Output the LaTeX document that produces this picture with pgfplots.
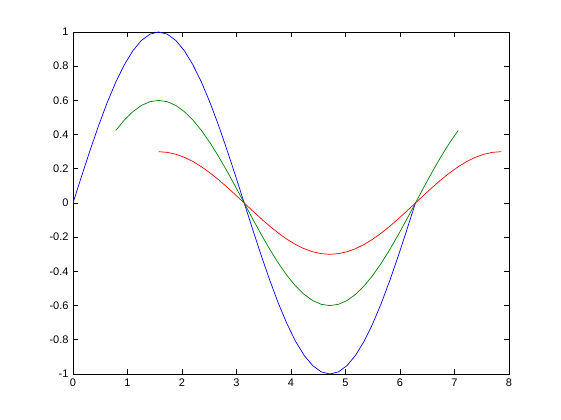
\documentclass[border=0pt]{standalone}
\usepackage{fontspec}
\setmainfont{Liberation Sans}
\usepackage{pgfplots}
\pgfplotsset{compat=1.18}

\definecolor{mblue}{rgb}{0,0,1}
\definecolor{mgreen}{rgb}{0,0.5,0}
\definecolor{mred}{rgb}{1,0,0}

% y = sin(x) on 0..2pi, step 9 degrees
\pgfplotstableread{
x y
0.0000 0
0.1571 0.15643
0.3142 0.30902
0.4712 0.45399
0.6283 0.58779
0.7854 0.70711
0.9425 0.80902
1.0996 0.89101
1.2566 0.95106
1.4137 0.98769
1.5708 1
1.7279 0.98769
1.8850 0.95106
2.0420 0.89101
2.1991 0.80902
2.3562 0.70711
2.5133 0.58779
2.6704 0.45399
2.8274 0.30902
2.9845 0.15643
3.1416 0
3.2987 -0.15643
3.4558 -0.30902
3.6128 -0.45399
3.7699 -0.58779
3.9270 -0.70711
4.0841 -0.80902
4.2412 -0.89101
4.3982 -0.95106
4.5553 -0.98769
4.7124 -1
4.8695 -0.98769
5.0265 -0.95106
5.1836 -0.89101
5.3407 -0.80902
5.4978 -0.70711
5.6549 -0.58779
5.8119 -0.45399
5.9690 -0.30902
6.1261 -0.15643
6.2832 0
}\bluedata

% 0.6 sin(x) on pi/4..9pi/4
\pgfplotstableread{
x y
0.7854 0.42427
0.9425 0.48541
1.0996 0.53461
1.2566 0.57064
1.4137 0.59261
1.5708 0.6
1.7279 0.59261
1.8850 0.57064
2.0420 0.53461
2.1991 0.48541
2.3562 0.42427
2.5133 0.35267
2.6704 0.27239
2.8274 0.18541
2.9845 0.09386
3.1416 0
3.2987 -0.09386
3.4558 -0.18541
3.6128 -0.27239
3.7699 -0.35267
3.9270 -0.42427
4.0841 -0.48541
4.2412 -0.53461
4.3982 -0.57064
4.5553 -0.59261
4.7124 -0.6
4.8695 -0.59261
5.0265 -0.57064
5.1836 -0.53461
5.3407 -0.48541
5.4978 -0.42427
5.6549 -0.35267
5.8119 -0.27239
5.9690 -0.18541
6.1261 -0.09386
6.2832 0
6.4403 0.09386
6.5973 0.18541
6.7544 0.27239
6.9115 0.35267
7.0686 0.42427
}\greendata

% 0.3 sin(x) on pi/2..5pi/2
\pgfplotstableread{
x y
1.5708 0.3
1.7279 0.29631
1.8850 0.28532
2.0420 0.26730
2.1991 0.24271
2.3562 0.21213
2.5133 0.17634
2.6704 0.13620
2.8274 0.09271
2.9845 0.04693
3.1416 0
3.2987 -0.04693
3.4558 -0.09271
3.6128 -0.13620
3.7699 -0.17634
3.9270 -0.21213
4.0841 -0.24271
4.2412 -0.26730
4.3982 -0.28532
4.5553 -0.29631
4.7124 -0.3
4.8695 -0.29631
5.0265 -0.28532
5.1836 -0.26730
5.3407 -0.24271
5.4978 -0.21213
5.6549 -0.17634
5.8119 -0.13620
5.9690 -0.09271
6.1261 -0.04693
6.2832 0
6.4403 0.04693
6.5973 0.09271
6.7544 0.13620
6.9115 0.17634
7.0686 0.21213
7.2257 0.24271
7.3827 0.26730
7.5398 0.28532
7.6969 0.29631
7.8540 0.3
}\reddata

\begin{document}
\begin{tikzpicture}
\useasboundingbox (0,0) rectangle (561bp,420bp);
\begin{axis}[
  at={(73bp,46bp)}, anchor=south west,
  scale only axis, width=436bp, height=342bp,
  xmin=0, xmax=8, ymin=-1, ymax=1,
  xtick={0,1,...,8},
  ytick={-1,-0.8,-0.6,-0.4,-0.2,0,0.2,0.4,0.6,0.8,1},
  yticklabels={-1,-0.8,-0.6,-0.4,-0.2,0,0.2,0.4,0.6,0.8,1},
  tick align=inside, major tick length=5bp,
  axis line style={line width=0.75bp},
  every tick/.style={black, line width=0.6bp},
  tick label style={font=\fontsize{11bp}{13bp}\selectfont},
  /pgf/number format/assume math mode=true,
  xticklabel style={yshift=-1bp},
  yticklabel style={xshift=-1bp},
]
\addplot[mblue, line width=0.7bp] table {\bluedata};
\addplot[mgreen, line width=0.7bp] table {\greendata};
\addplot[mred, line width=0.7bp] table {\reddata};
\end{axis}
\end{tikzpicture}
\end{document}
